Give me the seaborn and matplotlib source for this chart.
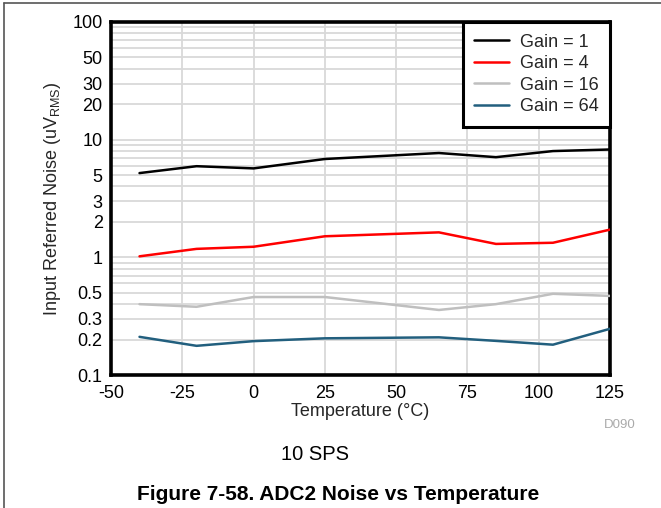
import matplotlib
matplotlib.use("Agg")
import matplotlib.pyplot as plt
import seaborn as sns
import pandas as pd
import numpy as np
from matplotlib.lines import Line2D
from matplotlib.ticker import FixedLocator, FixedFormatter, NullFormatter

temperature = [-40, -20, 0, 25, 65, 85, 105, 125]
gain_1 = [5.2, 5.95, 5.7, 6.85, 7.7, 7.1, 8.0, 8.25]
gain_4 = [1.02, 1.18, 1.23, 1.51, 1.63, 1.30, 1.33, 1.72]
gain_16 = [0.40, 0.38, 0.46, 0.46, 0.357, 0.40, 0.49, 0.47]
gain_64 = [0.211, 0.177, 0.194, 0.205, 0.209, 0.195, 0.181, 0.247]
series_names = ["Gain = 1", "Gain = 4", "Gain = 16", "Gain = 64"]
series_colors = ["#000000", "#ff0000", "#bfbfbf", "#225f7e"]
y_ticks = [0.1, 0.2, 0.3, 0.5, 1, 2, 3, 5, 10, 20, 30, 50, 100]
y_ticklabels = ["0.1", "0.2", "0.3", "0.5", "1", "2", "3", "5", "10", "20", "30", "50", "100"]
x_ticks = [-50, -25, 0, 25, 50, 75, 100, 125]

sns.set_theme(style="white")
plt.rcParams['font.family'] = ['Liberation Sans', 'DejaVu Sans']

frames = []
for name, vals in zip(series_names, [gain_1, gain_4, gain_16, gain_64]):
    frames.append(pd.DataFrame({"Temperature": temperature, "Noise": vals, "Series": name}))
df = pd.concat(frames, ignore_index=True)

fig = plt.figure(figsize=(6.61, 5.08), dpi=100)
ax = fig.add_axes([111/661, 133/508, 499/661, 353/508])

# minor grid positions
grid_y = [m * 10.0**e for e in range(-1, 2) for m in range(1, 10)] + [100]
for gy in grid_y:
    ax.axhline(gy, color="#d9d9d9", lw=1.3, zorder=0)
for gx in x_ticks:
    ax.axvline(gx, color="#d9d9d9", lw=1.3, zorder=0)

sns.lineplot(data=df, x="Temperature", y="Noise", hue="Series",
             palette=dict(zip(series_names, series_colors)),
             linewidth=1.8, ax=ax, legend=False, zorder=3)

ax.set_yscale("log")
ax.set_ylim(0.1, 100)
ax.set_xlim(-50, 125)
ax.yaxis.set_major_locator(FixedLocator(y_ticks))
ax.yaxis.set_major_formatter(FixedFormatter(y_ticklabels))
ax.yaxis.set_minor_formatter(NullFormatter())
ax.set_xticks(x_ticks)
ax.set_xticklabels([str(v) for v in x_ticks])
ax.tick_params(axis="both", which="both", length=0, labelsize=13, colors="black")
ax.tick_params(axis="y", pad=6)
ax.tick_params(axis="x", pad=7)
for s in ax.spines.values():
    s.set_linewidth(2.6)
    s.set_color("black")
ax.set_xlabel("Temperature (°C)", fontsize=13, labelpad=1)
ax.set_ylabel("Input Referred Noise (uV$_{\\mathregular{RMS}}$)", fontsize=13, labelpad=7)

handles = [Line2D([0], [0], color=c, lw=1.8) for c in series_colors]
leg = ax.legend(handles, series_names, loc="upper right", borderaxespad=0,
                fancybox=False, framealpha=1, edgecolor="black", fontsize=13,
                handlelength=1.9, handletextpad=0.6, labelspacing=0.25,
                borderpad=0.65)
leg.get_frame().set_linewidth(2.2)
leg.set_zorder(5)

fig.text(620/661, 1 - 425/508, "D090", color="#aaaaaa", fontsize=9.5, ha="center", va="center")
fig.text(315/661, 1 - 455/508, "10 SPS", color="black", fontsize=14.5, ha="center", va="center")
fig.text(338/661, 1 - 494/508, "Figure 7-58. ADC2 Noise vs Temperature", color="black",
         fontsize=15, fontweight="bold", ha="center", va="center")

# page frame
fig.add_artist(Line2D([4/661, 1], [1 - 3/508, 1 - 3/508], transform=fig.transFigure, color="#555555", lw=1.2))
fig.add_artist(Line2D([4/661, 4/661], [0, 1 - 3/508], transform=fig.transFigure, color="#555555", lw=1.2))

fig.savefig("out.png", dpi=100)
